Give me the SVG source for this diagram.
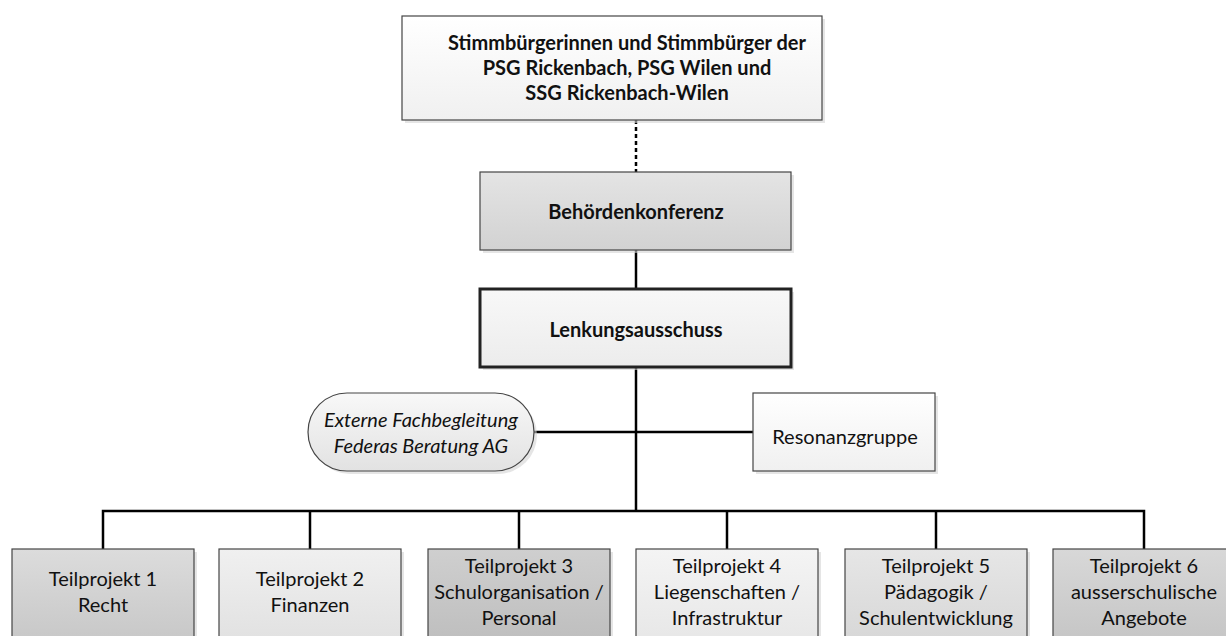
<svg xmlns="http://www.w3.org/2000/svg" width="1226" height="636" viewBox="0 0 1226 636">
  <style>
    .t { font-family: Lato, "Liberation Sans", sans-serif; font-size: 20px; fill: #111; text-anchor: middle; }
    .b { font-weight: bold; }
    .i { font-style: italic; }
    .box { stroke: #454545; stroke-width: 1.2; }
    .sh { fill: #d4d4d4; opacity: 0.6; }
    .con { stroke: #000; stroke-width: 2.5; fill: none; }
  </style>
  <defs>
    <linearGradient id="gWhite" x1="0" y1="0" x2="0" y2="1"><stop offset="0" stop-color="#ffffff"/><stop offset="1" stop-color="#f0f0f0"/></linearGradient>
    <linearGradient id="gBeh" x1="0" y1="0" x2="0" y2="1"><stop offset="0" stop-color="#e4e4e4"/><stop offset="1" stop-color="#d2d2d2"/></linearGradient>
    <linearGradient id="gLenk" x1="0" y1="0" x2="0" y2="1"><stop offset="0" stop-color="#f8f8f8"/><stop offset="1" stop-color="#ececec"/></linearGradient>
    <linearGradient id="gExt" x1="0" y1="0" x2="0" y2="1"><stop offset="0" stop-color="#f8f8f8"/><stop offset="1" stop-color="#e2e2e2"/></linearGradient>
    <linearGradient id="g1" x1="0" y1="0" x2="0" y2="1"><stop offset="0" stop-color="#dcdcdc"/><stop offset="1" stop-color="#c6c6c6"/></linearGradient>
    <linearGradient id="g2" x1="0" y1="0" x2="0" y2="1"><stop offset="0" stop-color="#f0f0f0"/><stop offset="1" stop-color="#e0e0e0"/></linearGradient>
    <linearGradient id="g3" x1="0" y1="0" x2="0" y2="1"><stop offset="0" stop-color="#cfcfcf"/><stop offset="1" stop-color="#bdbdbd"/></linearGradient>
    <linearGradient id="g4" x1="0" y1="0" x2="0" y2="1"><stop offset="0" stop-color="#f4f4f4"/><stop offset="1" stop-color="#e6e6e6"/></linearGradient>
    <linearGradient id="g5" x1="0" y1="0" x2="0" y2="1"><stop offset="0" stop-color="#e6e6e6"/><stop offset="1" stop-color="#d6d6d6"/></linearGradient>
    <linearGradient id="g6" x1="0" y1="0" x2="0" y2="1"><stop offset="0" stop-color="#d8d8d8"/><stop offset="1" stop-color="#c4c4c4"/></linearGradient>
  </defs>

  <g id="connectors">
    <line class="con" x1="636" y1="120" x2="636" y2="172" stroke-dasharray="4 3"/>
    <line class="con" x1="636" y1="250" x2="636" y2="289"/>
    <line class="con" x1="636" y1="367" x2="636" y2="511"/>
    <line class="con" x1="534" y1="432" x2="753" y2="432"/>
    <polyline class="con" points="103,549 103,511 1144,511 1144,549"/>
    <line class="con" x1="310" y1="511" x2="310" y2="549"/>
    <line class="con" x1="519" y1="511" x2="519" y2="549"/>
    <line class="con" x1="727" y1="511" x2="727" y2="549"/>
    <line class="con" x1="936" y1="511" x2="936" y2="549"/>
  </g>

  <g id="stimmbuerger">
    <rect class="sh" x="405" y="19" width="420" height="104"/>
    <rect class="box" x="402" y="16" width="420" height="104" fill="url(#gWhite)"/>
    <text class="t b" x="627" y="50">Stimmbürgerinnen und Stimmbürger der</text>
    <text class="t b" x="627" y="75">PSG Rickenbach, PSG Wilen und</text>
    <text class="t b" x="627" y="100">SSG Rickenbach-Wilen</text>
  </g>

  <g id="behoerdenkonferenz">
    <rect class="sh" x="483" y="175" width="311" height="78"/>
    <rect class="box" x="480" y="172" width="311" height="78" fill="url(#gBeh)"/>
    <text class="t b" x="636" y="219">Behördenkonferenz</text>
  </g>

  <g id="lenkungsausschuss">
    <rect class="sh" x="483" y="292" width="311" height="78"/>
    <rect x="480" y="289" width="311" height="78" fill="url(#gLenk)" stroke="#222" stroke-width="3"/>
    <text class="t b" x="636" y="337">Lenkungsausschuss</text>
  </g>

  <g id="externe">
    <rect class="sh" x="311" y="396" width="226" height="78" rx="39"/>
    <rect class="box" x="308" y="393" width="226" height="78" rx="39" fill="url(#gExt)"/>
    <text class="t i" x="421" y="427">Externe Fachbegleitung</text>
    <text class="t i" x="421" y="453">Federas Beratung AG</text>
  </g>

  <g id="resonanzgruppe">
    <rect class="sh" x="756" y="396" width="182" height="78"/>
    <rect class="box" x="753" y="393" width="182" height="78" fill="url(#gWhite)"/>
    <text class="t" x="845" y="444">Resonanzgruppe</text>
  </g>

  <g id="tp1">
    <rect class="sh" x="15" y="552" width="182" height="100"/>
    <rect class="box" x="12" y="549" width="182" height="100" fill="url(#g1)"/>
    <text class="t" x="103" y="586">Teilprojekt 1</text>
    <text class="t" x="103" y="612">Recht</text>
  </g>

  <g id="tp2">
    <rect class="sh" x="222" y="552" width="182" height="100"/>
    <rect class="box" x="219" y="549" width="182" height="100" fill="url(#g2)"/>
    <text class="t" x="310" y="586">Teilprojekt 2</text>
    <text class="t" x="310" y="612">Finanzen</text>
  </g>

  <g id="tp3">
    <rect class="sh" x="431" y="552" width="182" height="100"/>
    <rect class="box" x="428" y="549" width="182" height="100" fill="url(#g3)"/>
    <text class="t" x="519" y="573">Teilprojekt 3</text>
    <text class="t" x="519" y="599">Schulorganisation /</text>
    <text class="t" x="519" y="625">Personal</text>
  </g>

  <g id="tp4">
    <rect class="sh" x="639" y="552" width="182" height="100"/>
    <rect class="box" x="636" y="549" width="182" height="100" fill="url(#g4)"/>
    <text class="t" x="727" y="573">Teilprojekt 4</text>
    <text class="t" x="727" y="599">Liegenschaften /</text>
    <text class="t" x="727" y="625">Infrastruktur</text>
  </g>

  <g id="tp5">
    <rect class="sh" x="848" y="552" width="182" height="100"/>
    <rect class="box" x="845" y="549" width="182" height="100" fill="url(#g5)"/>
    <text class="t" x="936" y="573">Teilprojekt 5</text>
    <text class="t" x="936" y="599">Pädagogik /</text>
    <text class="t" x="936" y="625">Schulentwicklung</text>
  </g>

  <g id="tp6">
    <rect class="sh" x="1056" y="552" width="182" height="100"/>
    <rect class="box" x="1053" y="549" width="182" height="100" fill="url(#g6)"/>
    <text class="t" x="1144" y="573">Teilprojekt 6</text>
    <text class="t" x="1144" y="599">ausserschulische</text>
    <text class="t" x="1144" y="625">Angebote</text>
  </g>
</svg>
